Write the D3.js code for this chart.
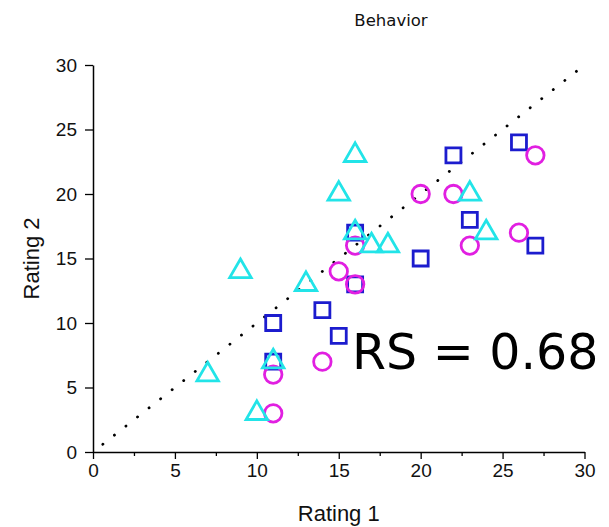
<!DOCTYPE html>
<html><head><meta charset="utf-8">
<script src="https://cdn.jsdelivr.net/npm/d3@7"></script>
<style>body{margin:0;background:#fff}</style>
</head><body>
<svg id="chart" width="609" height="527"></svg>
<script>
// Rating pairs (Rating 1, Rating 2) for the three rater groups
const squarePoints = [[26,24],[22,23],[23,18],[27,16],[20,15],[16,17],[16,13],[14,11],[15,9],[11,10],[11,7]];
const circlePoints = [[27,23],[20,20],[22,20],[26,17],[23,16],[16,16],[16,13],[15,14],[14,7],[11,6],[11,3]];
const trianglePoints = [[16,23],[15,20],[23,20],[24,17],[16,17],[17,16],[18,16],[9,14],[13,13],[7,6],[11,7],[10,3]];
const majorTicks = [0,5,10,15,20,25,30];
const minorTicksX = [2.5,7.5,12.5,17.5,22.5,27.5];
const identityLine = [[0.6,0.6],[30,30]];
const titleText = "Behavior";
const xLabel = "Rating 1";
const yLabel = "Rating 2";
const statText = "RS = 0.68";

const svg = d3.select("#chart");
const x = d3.scaleLinear().domain([0,30]).range([93,584.5]);
const y = d3.scaleLinear().domain([0,30]).range([452,65]);

// axes
svg.append("g").attr("transform",`translate(0,${y(0)})`)
  .call(d3.axisBottom(x).tickValues(majorTicks).tickSize(7).tickSizeOuter(0).tickPadding(5));
svg.append("g").attr("transform",`translate(0,${y(0)})`)
  .call(d3.axisBottom(x).tickValues(minorTicksX).tickSize(4).tickFormat("").tickSizeOuter(0))
  .select(".domain").remove();
svg.append("g").attr("transform",`translate(${x(0)},0)`)
  .call(d3.axisLeft(y).tickValues(majorTicks).tickSize(8).tickSizeOuter(0).tickPadding(8));
svg.selectAll(".domain").attr("stroke","#000").attr("stroke-width",1.5);
svg.selectAll(".tick line").attr("stroke","#000").attr("stroke-width",1.3);
svg.selectAll(".tick text").attr("font-family","'Liberation Sans', Arial, sans-serif")
  .attr("font-size",19).attr("fill","#111");

// y = x reference line
svg.append("path")
  .attr("d", d3.line().x(d=>x(d[0])).y(d=>y(d[1]))(identityLine))
  .attr("fill","none").attr("stroke","#000").attr("stroke-width",2.8)
  .attr("stroke-linecap","round").attr("stroke-dasharray","0.1 14.6");

// markers
const series = [
  {data: squarePoints, type: d3.symbolSquare, size: 225, color: "#1c1cce"},
  {data: circlePoints, type: d3.symbolCircle, size: 240, color: "#e11fe1"},
  {data: trianglePoints, type: d3.symbolTriangle, size: 200, color: "#22e4e8"}
];
series.forEach(s => {
  svg.append("g").selectAll("path").data(s.data).join("path")
    .attr("transform", d => `translate(${x(d[0])},${y(d[1])})`)
    .attr("d", d3.symbol().type(s.type).size(s.size))
    .attr("fill","none").attr("stroke", s.color).attr("stroke-width",2.8);
});

// labels
svg.append("text").attr("x",391).attr("y",26).attr("text-anchor","middle")
  .attr("font-family","'DejaVu Sans', Verdana, sans-serif").attr("font-size",16.5).attr("fill","#111")
  .text(titleText);
svg.append("text").attr("x",(x(0)+x(30))/2).attr("y",521).attr("text-anchor","middle")
  .attr("font-family","'Liberation Sans', Arial, sans-serif").attr("font-size",22).attr("fill","#111")
  .text(xLabel);
svg.append("text").attr("transform",`translate(39,${(y(0)+y(30))/2}) rotate(-90)`).attr("text-anchor","middle")
  .attr("font-family","'Liberation Sans', Arial, sans-serif").attr("font-size",22).attr("fill","#111")
  .text(yLabel);
svg.append("text").attr("x",352).attr("y",369)
  .attr("font-family","'DejaVu Sans', Verdana, sans-serif").attr("font-size",49).attr("fill","#000")
  .text(statText);
</script>
</body></html>
